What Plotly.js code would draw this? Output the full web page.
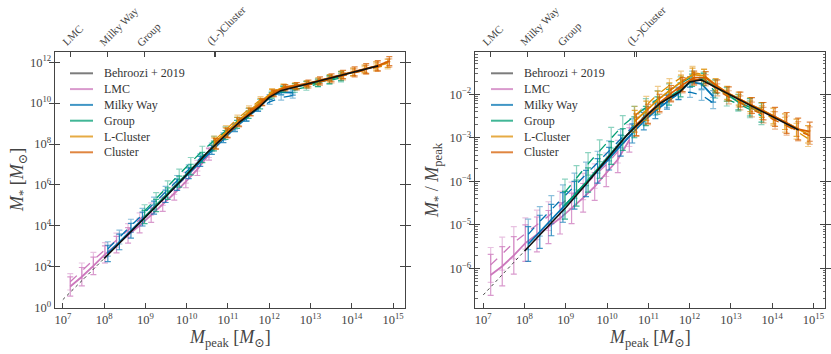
<!DOCTYPE html>
<html><head><meta charset="utf-8">
<script src="https://cdn.plot.ly/plotly-3.0.1.min.js"></script>
<style>html,body{margin:0;padding:0;background:#fff}#chart{width:831px;height:354px}</style>
</head><body><div id="chart"></div>
<script>
// ---- data (log10 values) ----
const behrooziLogM     = [7.0, 8.0, 9.0, 9.47, 10.0, 10.48, 11.0, 11.28, 11.77, 12.0, 12.28, 12.6, 13.0, 13.5, 14.0, 14.64];
const behrooziLogRatio = [-6.61, -5.6, -4.6, -4.09, -3.5, -2.94, -2.45, -2.21, -1.94, -1.72, -1.67, -1.83, -2.03, -2.27, -2.51, -2.82];

const lmcLogM        = [7.18,7.46,7.74,8.02,8.30,8.58,8.86,9.14,9.42,9.70,9.98,10.26,10.54];
const lmcLogRatio    = [-6.15,-5.95,-5.70,-5.42,-5.22,-5.05,-4.85,-4.62,-4.38,-4.12,-3.82,-3.50,-3.05];
const lmcLogRatioAlt = [-5.92,-5.66,-5.41,-5.20,-5.00,-4.80,-4.55,-4.32,-4.12,-3.88,-3.62,-3.32,-2.95];
const lmcErr         = [0.47,0.45,0.43,0.42,0.40,0.38,0.36,0.35,0.33,0.32,0.30,0.30,0.28];
const lmcErrAlt      = [0.40,0.38,0.37,0.36,0.34,0.33,0.32,0.30,0.30,0.28,0.27,0.26,0.25];

const mwLogM        = [8.09,8.37,8.65,8.93,9.21,9.49,9.77,10.05,10.33,10.61,10.89,11.17,11.45,11.73,12.01,12.29,12.57];
const mwLogRatio    = [-5.44,-5.16,-4.89,-4.60,-4.32,-4.05,-3.76,-3.48,-3.18,-2.90,-2.62,-2.38,-2.18,-1.98,-1.72,-1.76,-2.05];
const mwLogRatioAlt = [-5.22,-4.92,-4.65,-4.38,-4.10,-3.83,-3.56,-3.30,-3.02,-2.76,-2.52,-2.32,-2.15,-2.00,-1.95,-2.02,-2.20];
const mwErr         = [0.40,0.38,0.36,0.34,0.32,0.30,0.28,0.26,0.24,0.22,0.20,0.18,0.16,0.14,0.12,0.12,0.13];
const mwErrAlt      = [0.35,0.34,0.32,0.30,0.29,0.27,0.25,0.23,0.21,0.20,0.18,0.16,0.15,0.13,0.12,0.12,0.13];

const groupLogM        = [8.98,9.26,9.54,9.82,10.10,10.38,10.66,10.94,11.22,11.50,11.78,12.06,12.34,12.62,12.90,13.18,13.46,13.74];
const groupLogRatio    = [-4.55,-4.27,-3.97,-3.66,-3.35,-3.04,-2.76,-2.50,-2.26,-2.07,-1.90,-1.68,-1.66,-1.82,-2.00,-2.18,-2.30,-2.42];
const groupLogRatioAlt = [-4.25,-3.92,-3.60,-3.30,-3.00,-2.72,-2.50,-2.30,-2.10,-1.92,-1.75,-1.60,-1.62,-1.95,-2.12,-2.22,-2.35,-2.50];
const groupErr         = [0.32,0.30,0.28,0.27,0.26,0.25,0.24,0.22,0.20,0.18,0.16,0.14,0.14,0.15,0.16,0.18,0.20,0.22];
const groupErrAlt      = [0.30,0.28,0.26,0.25,0.24,0.23,0.22,0.20,0.18,0.16,0.15,0.13,0.13,0.14,0.15,0.17,0.19,0.20];

const lclusterLogM        = [10.67,10.95,11.23,11.51,11.79,12.07,12.35,12.63,12.91,13.19,13.47,13.75,14.03,14.31,14.59,14.87];
const lclusterLogRatio    = [-2.62,-2.38,-2.13,-1.92,-1.72,-1.55,-1.57,-1.78,-1.97,-2.10,-2.24,-2.36,-2.50,-2.63,-2.77,-2.92];
const lclusterLogRatioAlt = [-2.50,-2.25,-2.00,-1.80,-1.62,-1.50,-1.55,-1.82,-2.02,-2.15,-2.30,-2.42,-2.56,-2.70,-2.85,-3.02];
const lclusterErr         = [0.25,0.22,0.20,0.18,0.16,0.15,0.14,0.14,0.15,0.15,0.16,0.17,0.18,0.18,0.20,0.20];
const lclusterErrAlt      = [0.22,0.20,0.18,0.16,0.15,0.14,0.13,0.13,0.14,0.14,0.15,0.16,0.16,0.17,0.18,0.18];

const clusterLogM        = [10.71,10.99,11.27,11.55,11.83,12.11,12.39,12.67,12.95,13.23,13.51,13.79,14.07,14.35,14.63,14.91];
const clusterLogRatio    = [-2.70,-2.45,-2.20,-1.98,-1.78,-1.62,-1.62,-1.82,-1.99,-2.12,-2.26,-2.39,-2.52,-2.66,-2.80,-2.86];
const clusterLogRatioAlt = [-2.75,-2.50,-2.25,-2.02,-1.82,-1.66,-1.68,-1.90,-2.07,-2.20,-2.35,-2.48,-2.60,-2.72,-2.85,-2.95];
const clusterErr         = [0.25,0.22,0.20,0.18,0.16,0.15,0.14,0.15,0.16,0.17,0.18,0.20,0.22,0.24,0.25,0.22];
const clusterErrAlt      = [0.22,0.20,0.18,0.16,0.15,0.14,0.13,0.14,0.15,0.16,0.17,0.18,0.20,0.22,0.22,0.20];

const legendNames  = ['Behroozi + 2019','LMC','Milky Way','Group','L-Cluster','Cluster'];
const sampleColors = ['#cc78bc','#0173b2','#029e73','#de8f05','#d55e00'];
const topTickLogM  = [7.18, 8.08, 8.98, 10.67, 10.71];
const topLabelLogM = [7.18, 8.08, 8.98, 10.68];
const topLabelText = ['LMC','Milky Way','Group','(L-)Cluster'];
const xTickExp     = [7,8,9,10,11,12,13,14,15];
const yTickExpLeft = [0,2,4,6,8,10,12];
const yTickExpRight= [-6,-5,-4,-3,-2];
const minorMant    = [2,3,4,5,6,7,8,9];

// ---- build ----
const FONT = 'Liberation Serif, DejaVu Serif, serif';
const P = v => Math.pow(10, v);
const pw = e => '10<sup>' + (e < 0 ? '\u2212' + (-e) : e) + '</sup>';
function rgba(hex, a){const n=parseInt(hex.slice(1),16);return `rgba(${n>>16},${(n>>8)&255},${n&255},${a})`;}

const traces = [];
function addSeries(logM, logR, err, color, dash, width, errAlpha, panel){
  const x = logM.map(P);
  const r = logR.map(P);
  const y = panel === 1 ? r.map((v,i)=>v*x[i]) : r;
  const t = {type:'scatter', mode:'lines', x, y,
    xaxis: panel===1?'x':'x2', yaxis: panel===1?'y':'y2',
    line:{color, width, dash}, showlegend:false, hoverinfo:'skip'};
  if (err) {
    t.error_y = {type:'data', symmetric:false,
      array: y.map((v,i)=>v*(P(err[i])-1)),
      arrayminus: y.map((v,i)=>v*(1-P(-err[i]))),
      color: rgba(color, errAlpha), thickness:1.2, width:3};
  }
  traces.push(t);
}
const samples = [
  [lmcLogM, lmcLogRatio, lmcLogRatioAlt, lmcErr, lmcErrAlt],
  [mwLogM, mwLogRatio, mwLogRatioAlt, mwErr, mwErrAlt],
  [groupLogM, groupLogRatio, groupLogRatioAlt, groupErr, groupErrAlt],
  [lclusterLogM, lclusterLogRatio, lclusterLogRatioAlt, lclusterErr, lclusterErrAlt],
  [clusterLogM, clusterLogRatio, clusterLogRatioAlt, clusterErr, clusterErrAlt]
];
[1,2].forEach(panel=>{
  samples.forEach((s,k)=>{
    const c = sampleColors[k];
    addSeries(s[0], s[2], s[4], c, 'dash', 1.3, 0.45, panel);
    addSeries(s[0], s[1], s[3], c, 'solid', 1.8, 0.75, panel);
  });
  addSeries(behrooziLogM.slice(0,2), behrooziLogRatio.slice(0,2), null, '#333', 'dot', 0.9, 1, panel);
  addSeries(behrooziLogM.slice(1), behrooziLogRatio.slice(1), null, '#111', 'solid', 1.6, 1, panel);
});
// invisible anchors so the overlay axes are drawn
traces.push({type:'scatter', mode:'markers', x:[P(topTickLogM[0])], y:[1e6], xaxis:'x3', yaxis:'y', marker:{opacity:0}, showlegend:false, hoverinfo:'skip'});
traces.push({type:'scatter', mode:'markers', x:[P(topTickLogM[0])], y:[1e-3], xaxis:'x4', yaxis:'y2', marker:{opacity:0}, showlegend:false, hoverinfo:'skip'});
traces.push({type:'scatter', mode:'markers', x:[1e10], y:[1e-3], xaxis:'x2', yaxis:'y3', marker:{opacity:0}, showlegend:false, hoverinfo:'skip'});

const xr = [6.81, 15.29], xr2 = [6.80, 15.28], yr2 = [-6.91, -1.03];
const dom1 = [55/831, 405/831], dom2 = [475/831, 825/831], ydom = [46/354, 302/354];
const base = {type:'log', showline:true, linecolor:'#444', linewidth:1.3, ticks:'inside', ticklen:5,
  tickwidth:1, tickcolor:'#444', showgrid:false, zeroline:false, tickmode:'array',
  tickfont:{family:FONT, size:12.5, color:'#444'}, automargin:false};
const topAx = {type:'log', side:'top', showline:false, showgrid:false, zeroline:false, ticks:'inside', ticklen:5,
  tickcolor:'#444', tickmode:'array', tickvals:topTickLogM.map(P), showticklabels:false, automargin:false};
const minorVals = [];
[-7,-6,-5,-4,-3,-2].forEach(e=>minorMant.forEach(m=>minorVals.push(m*P(e))));

const annotations = [];
const shapes = [];
const titleFont = {family:FONT, size:18, color:'#444'};
const ann = (x,y,text,angle)=>({xref:'paper', yref:'paper', x:x/831, y:1-y/354, xanchor:'center', yanchor:'middle',
  text, textangle:angle||0, showarrow:false, font:titleFont});
annotations.push(
  ann(18,180,'<i>M</i><sub>*</sub> [<i>M</i><sub>⊙</sub>]',-90),
  ann(230,338,'<i>M</i><sub>peak</sub> [<i>M</i><sub>⊙</sub>]'),
  ann(433,180,'<i>M</i><sub>*</sub> / <i>M</i><sub>peak</sub>',-90),
  ann(650,338,'<i>M</i><sub>peak</sub> [<i>M</i><sub>⊙</sub>]'));
// rotated category labels above each panel
['x3','x4'].forEach(xa=>topLabelLogM.forEach((v,i)=>annotations.push({
  xref:xa, yref:'paper', x:v, y:1-52/354, xanchor:'left', yanchor:'bottom', xshift:-13, yshift:1,
  text:topLabelText[i], textangle:-45, showarrow:false, font:{family:FONT, size:11, color:'#444'}})));
// legends (one per panel)
const legColors = ['rgba(110,110,110,0.9)'].concat(sampleColors.map(c=>rgba(c,0.75)));
[[70,93,102],[491,513,522]].forEach(([lx0,lx1,tx])=>{
  legendNames.forEach((n,i)=>{
    const yy = 73.3 + i*15.8;
    shapes.push({type:'line', xref:'paper', yref:'paper', x0:lx0/831, x1:lx1/831, y0:1-yy/354, y1:1-yy/354,
      line:{color:legColors[i], width:2}});
    annotations.push({xref:'paper', yref:'paper', x:tx/831, y:1-yy/354, xanchor:'left', yanchor:'middle',
      text:n, showarrow:false, font:{family:FONT, size:12, color:'#333'}});
  });
});

const xTicks = {tickvals:xTickExp.map(P), ticktext:xTickExp.map(pw)};
const layout = {
  width:831, height:354, margin:{l:0,r:0,t:0,b:0}, paper_bgcolor:'#fff', plot_bgcolor:'#fff',
  font:{family:FONT}, showlegend:false,
  xaxis:{...base, ...xTicks, domain:dom1, range:xr, mirror:true, anchor:'y'},
  yaxis:{...base, tickvals:yTickExpLeft.map(P), ticktext:yTickExpLeft.map(pw), domain:ydom, range:[-0.02,12.5], mirror:'allticks', anchor:'x'},
  xaxis2:{...base, ...xTicks, domain:dom2, range:xr2, mirror:true, anchor:'y2'},
  yaxis2:{...base, tickvals:yTickExpRight.map(P), ticktext:yTickExpRight.map(pw), domain:ydom, range:yr2, mirror:'allticks', anchor:'x2'},
  yaxis3:{type:'log', overlaying:'y2', anchor:'x2', range:yr2, tickmode:'array', tickvals:minorVals, ticks:'inside', ticklen:2.5,
    tickcolor:'#444', tickwidth:0.8, showticklabels:false, showline:false, showgrid:false, zeroline:false, mirror:'allticks', automargin:false},
  xaxis3:{...topAx, overlaying:'x', anchor:'y', range:xr, domain:dom1},
  xaxis4:{...topAx, overlaying:'x2', anchor:'y2', range:xr2, domain:dom2},
  shapes, annotations
};
Plotly.newPlot('chart', traces, layout, {displayModeBar:false, staticPlot:true});
</script></body></html>
